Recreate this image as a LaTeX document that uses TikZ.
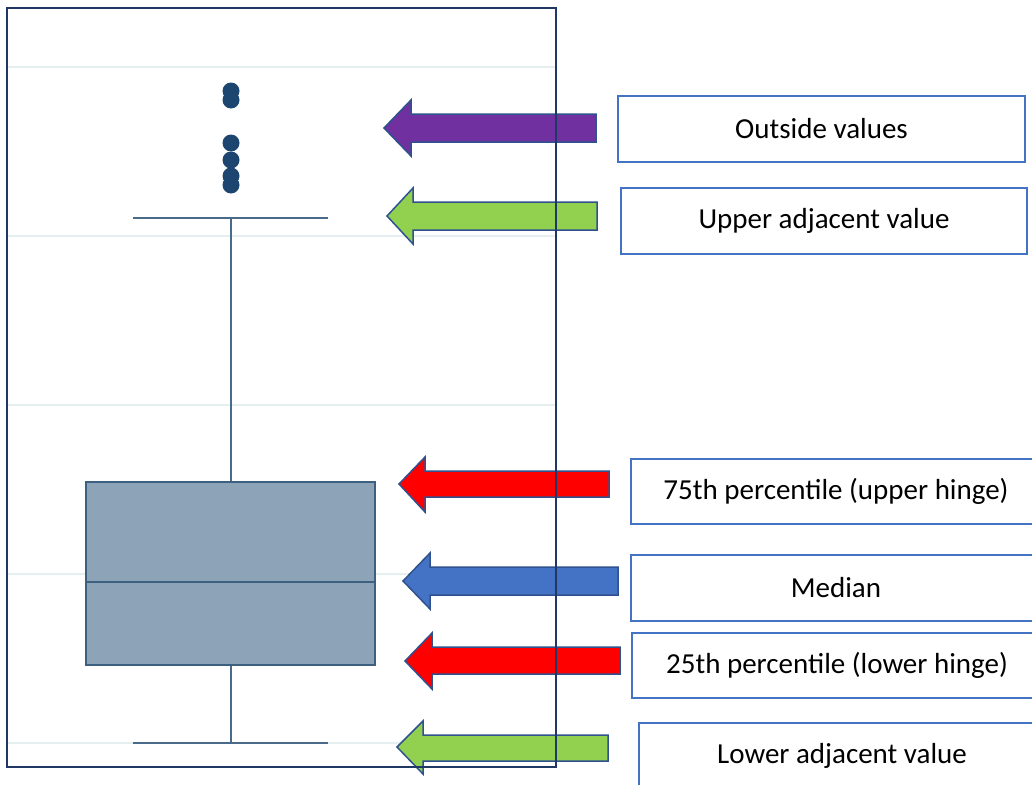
\documentclass[tikz,border=0pt]{standalone}
\usepackage{fontspec}
\setmainfont{Carlito}
\definecolor{frameC}{HTML}{1F3864}
\definecolor{gridC}{HTML}{E6EFEF}
\definecolor{boxfillC}{HTML}{8CA3B8}
\definecolor{boxlineC}{HTML}{3D5F80}
\definecolor{whiskC}{HTML}{4A6A8A}
\definecolor{dotC}{HTML}{1C4670}
\definecolor{arrlineC}{HTML}{2F528F}
\definecolor{purpC}{HTML}{7030A0}
\definecolor{lgreenC}{HTML}{92D050}
\definecolor{lblueC}{HTML}{4472C4}
\definecolor{redC}{HTML}{FF0000}
\tikzset{
  gridline/.style={gridC, line width=2pt},
  whisk/.style={whiskC, line width=2pt},
  blockarrow/.style={draw=arrlineC, line width=1.5pt, line join=miter},
  label/.style={draw=lblueC, line width=2pt, fill=white, minimum width=408pt,
    minimum height=65pt, inner sep=0pt, font=\fontsize{29}{34}\selectfont, text=black},
  outlier/.style={fill=dotC}
}
\begin{document}
\begin{tikzpicture}[x=1pt, y=-1pt]
\useasboundingbox (0,0) rectangle (1032,784);
\clip (0,0) rectangle (1032,784);
\fill[white] (0,0) rectangle (1032,784);
% grid lines
\foreach \gy in {67,236,405,574,743}
  \draw[gridline] (8,\gy) -- (555,\gy);
% whiskers and box
\draw[whisk] (133,218) -- (328,218);
\draw[whisk] (231,218) -- (231,482);
\draw[whisk] (231,665) -- (231,743);
\draw[whisk] (133,743) -- (328,743);
\filldraw[fill=boxfillC, draw=boxlineC, line width=2.5pt] (86,482) rectangle (375,665);
\draw[boxlineC, line width=2.5pt] (86,582) -- (375,582);
% outliers
\foreach \oy in {91,100,143,160,176,185}
  \fill[outlier] (231,\oy) circle (8.5);
% arrows
\draw[blockarrow, fill=purpC] (384,128) -- (411,100) -- (411,114) -- (596,114) -- (596,142) -- (411,142) -- (411,156) -- cycle;
\draw[blockarrow, fill=lgreenC] (387,216) -- (413,188) -- (413,202) -- (597,202) -- (597,230) -- (413,230) -- (413,244) -- cycle;
\draw[blockarrow, fill=redC] (399,484) -- (425,457) -- (425,471) -- (609,471) -- (609,497) -- (425,497) -- (425,512) -- cycle;
\draw[blockarrow, fill=lblueC] (403,581) -- (430,553) -- (430,567) -- (618,567) -- (618,595) -- (430,595) -- (430,609) -- cycle;
\draw[blockarrow, fill=redC] (405,661) -- (432,633) -- (432,647) -- (620,647) -- (620,674) -- (432,674) -- (432,689) -- cycle;
\draw[blockarrow, fill=lgreenC] (397,747) -- (423,721) -- (423,735) -- (608,735) -- (608,761) -- (423,761) -- (423,774) -- cycle;
% frame
\draw[frameC, line width=1.8pt] (7,8) rectangle (556,767);
% labels
\node[label, minimum width=407pt, minimum height=66pt] (outside) at (821.5,129) {Outside values};
\node[label, minimum width=406pt, minimum height=66pt] (upperadj) at (824,221) {Upper adjacent value};
\node[label, minimum width=410pt] (q75) at (836,491.5) {75th percentile (upper hinge)};
\node[label, minimum width=410pt, minimum height=66pt] (median) at (836,588) {Median};
\node[label, minimum width=410pt] (q25) at (837,665.5) {25th percentile (lower hinge)};
\node[label, minimum width=406pt, minimum height=66pt] (loweradj) at (842,756) {Lower adjacent value};
\end{tikzpicture}
\end{document}
